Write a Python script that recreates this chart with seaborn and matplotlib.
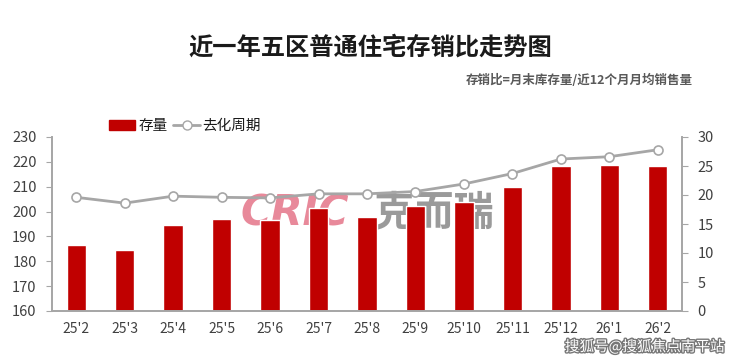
import numpy as np
import pandas as pd
import matplotlib
matplotlib.use('Agg')
import matplotlib.pyplot as plt
import matplotlib.patheffects as pe
import seaborn as sns
from matplotlib.lines import Line2D
from matplotlib.patches import Patch

# data
months = ["25'2", "25'3", "25'4", "25'5", "25'6", "25'7", "25'8",
          "25'9", "25'10", "25'11", "25'12", "26'1", "26'2"]
stock = [186.4, 184.7, 194.5, 197.1, 196.5, 201.4, 197.8,
         202.1, 203.7, 209.9, 218.4, 218.6, 218.2]
cycle = [19.6, 18.6, 19.8, 19.6, 19.5, 20.2, 20.2,
         20.6, 21.9, 23.7, 26.2, 26.6, 27.8]

df = pd.DataFrame({'month': months, 'stock': stock, 'cycle': cycle})

sns.set_theme(style='white')
plt.rcParams['font.family'] = ['Noto Sans CJK SC', 'DejaVu Sans']

fig = plt.figure(figsize=(7.4, 3.62), dpi=100)
ax = fig.add_axes([52 / 740, 51 / 362, 630 / 740, 174 / 362])

sns.barplot(data=df, x='month', y='stock', color='#C00000', width=0.4,
            saturation=1, ax=ax, zorder=2)
ax.set_ylim(160, 230)
ax.set_yticks(range(160, 231, 10))
ax.set_xlim(-0.5, len(months) - 0.5)
ax.set_xlabel('')
ax.set_ylabel('')

# watermark behind the bars
ax.text(240 / 740, 1 - 213 / 362, 'CRIC', transform=fig.transFigure,
        family=['DejaVu Sans'], fontsize=30, fontweight='bold',
        style='italic', color='#E8899A', ha='left', va='center', zorder=1)
ax.text(374 / 740, 1 - 213 / 362, '克而瑞', transform=fig.transFigure,
        fontsize=29, fontweight='bold', color='#9a9a9a',
        ha='left', va='center', zorder=1)

ax2 = ax.twinx()
sns.lineplot(data=df, x='month', y='cycle', ax=ax2, color='#A6A6A6', lw=2,
             marker='o', markersize=6.5, markerfacecolor='white',
             markeredgecolor='#A6A6A6', markeredgewidth=1.2, sort=False)
ax2.set_ylim(0, 30)
ax2.set_yticks(range(0, 31, 5))
ax2.set_ylabel('')
ax2.set_xlabel('')

for a in (ax, ax2):
    for s in a.spines.values():
        s.set_color('#A6A6A6')
    a.spines['top'].set_visible(False)
    a.tick_params(labelsize=10.5, colors='#A6A6A6', length=4, width=0.8,
                  pad=7)
    a.tick_params(axis='y', labelcolor='#404040')
ax.tick_params(axis='x', labelcolor='#404040', labelsize=10, length=0, pad=8)
ax.set_xticks(np.arange(-0.5, len(months), 1), minor=True)
ax.tick_params(axis='x', which='minor', length=5, color='#A6A6A6')

handles = [Patch(color='#C00000'),
           Line2D([], [], color='#A6A6A6', lw=2, marker='o', markersize=6.5,
                  markerfacecolor='white', markeredgecolor='#A6A6A6')]
fig.legend(handles, ['存量', '去化周期'], loc='center left',
           bbox_to_anchor=(96 / 740, 1 - 126 / 362), ncol=2, frameon=False,
           fontsize=10.5, handlelength=1.8, columnspacing=0.4,
           handletextpad=0.2, labelcolor='#1a1a1a')

fig.text(0.5, 1 - 48 / 362, '近一年五区普通住宅存销比走势图', ha='center',
         va='center', fontsize=17.5, fontweight='bold', color='#1a1a1a')
fig.text(693 / 740, 1 - 80 / 362, '存销比=月末库存量/近12个月月均销售量',
         ha='right', va='center', fontsize=9, fontweight='bold',
         color='#595959')
fig.text(725 / 740, 1 - 347 / 362, '搜狐号@搜狐焦点南平站', ha='right',
         va='center', fontsize=10.5, color='#ffffff',
         path_effects=[pe.withStroke(linewidth=2, foreground='#777777')])

fig.savefig('out.png', dpi=100)
